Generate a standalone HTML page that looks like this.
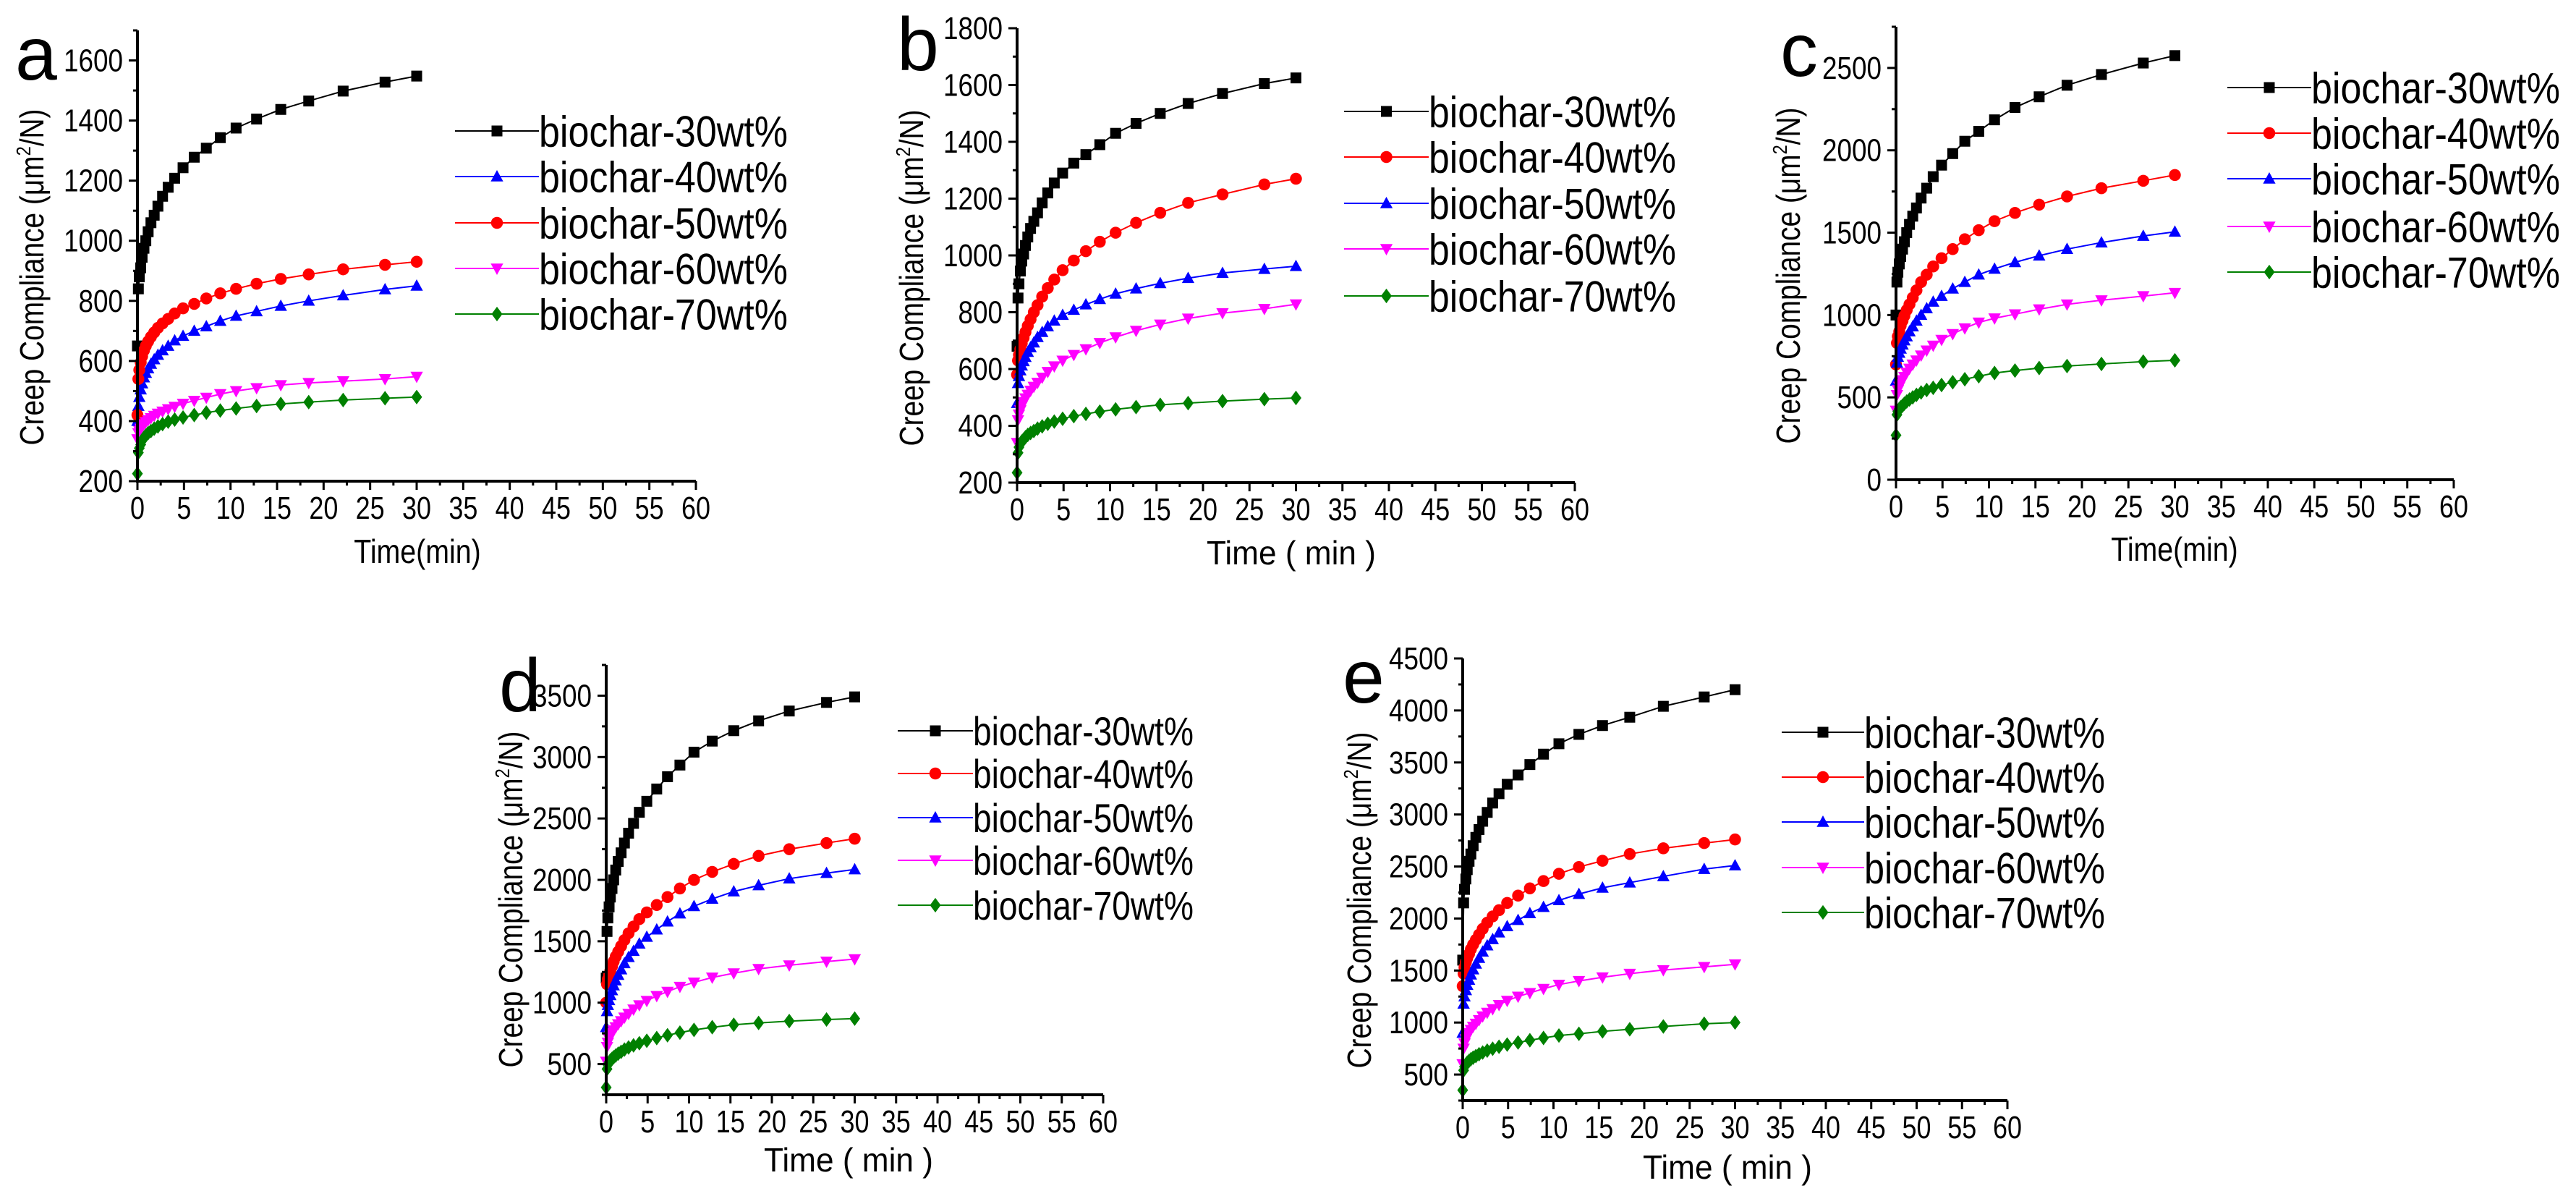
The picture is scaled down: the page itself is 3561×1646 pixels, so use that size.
<!DOCTYPE html>
<html><head><meta charset="utf-8"><style>
html,body{margin:0;padding:0;background:#fff;}
svg{display:block;font-family:"Liberation Sans",Arial,sans-serif;}
</style></head><body>
<svg id="fig" xmlns="http://www.w3.org/2000/svg" width="3561" height="1646" viewBox="0 0 3561 1646"></svg>
<script>
// ---- data ----
const times = [30,26.6,22.1,18.4,15.4,12.8,10.6,8.9,7.4,6.1,4.9,4.0,3.3,2.7,2.2,1.8,1.45,1.15,0.9,0.7,0.5,0.35,0.2,0.1,0];
const seriesNames = ['biochar-30wt%','biochar-40wt%','biochar-50wt%','biochar-60wt%','biochar-70wt%'];
const xTickLabels = [0,5,10,15,20,25,30,35,40,45,50,55,60];

const a30 = [1548,1528,1498,1465,1437,1405,1375,1343,1308,1278,1243,1208,1178,1148,1115,1085,1060,1030,1000,975,945,910,880,840,650];
const a40 = [850,838,818,800,783,765,750,733,715,700,683,668,650,635,620,605,590,575,560,545,525,505,480,450,400];
const a50 = [930,920,905,888,873,857,840,825,808,790,775,758,740,725,710,695,680,665,650,635,615,595,570,540,420];
const a60 = [548,540,533,527,520,510,500,490,478,468,458,448,440,432,425,418,410,403,397,390,382,375,368,360,340];
const a70 = [480,476,470,463,457,450,442,435,428,420,412,405,398,390,382,375,367,360,352,345,335,322,310,295,225];

const b30 = [1625,1605,1570,1535,1500,1465,1430,1390,1355,1325,1290,1255,1220,1185,1150,1120,1095,1065,1035,1005,980,945,900,850,680];
const b40 = [1270,1250,1215,1185,1150,1115,1080,1048,1015,982,948,915,885,855,825,800,775,752,730,710,690,670,650,630,580];
const b50 = [962,952,938,920,902,883,865,846,827,808,790,770,750,730,712,693,676,660,642,627,612,595,575,550,480];
const b60 = [828,812,797,778,757,735,712,692,670,650,630,610,590,570,552,538,524,510,497,484,470,455,440,420,340];
const b70 = [498,494,487,480,474,466,458,450,442,434,425,415,407,398,390,382,375,368,360,352,345,337,325,305,235];

const c30 = [2575,2530,2460,2395,2325,2260,2185,2115,2055,1980,1910,1840,1770,1710,1650,1600,1550,1500,1445,1400,1355,1310,1260,1200,1000];
const c40 = [1850,1815,1770,1720,1670,1620,1570,1515,1460,1400,1345,1295,1245,1200,1150,1105,1065,1030,995,965,935,900,870,830,700];
const c50 = [1505,1480,1440,1400,1360,1320,1280,1245,1200,1160,1115,1080,1040,1000,965,930,900,870,845,820,795,770,745,710,600];
const c60 = [1135,1115,1090,1065,1035,1005,980,955,920,885,850,815,785,755,725,700,675,650,625,605,585,565,545,515,420];
const c70 = [725,717,703,690,678,663,648,628,610,592,575,558,545,530,515,500,487,475,462,450,440,430,415,395,270];

const d30 = [3490,3445,3375,3295,3215,3130,3040,2935,2840,2740,2640,2550,2460,2380,2300,2220,2150,2080,2000,1930,1860,1780,1690,1580,1200];
const d40 = [2335,2300,2250,2195,2130,2065,2000,1930,1860,1795,1735,1680,1620,1565,1510,1460,1415,1375,1335,1295,1260,1225,1190,1150,1000];
const d50 = [2085,2055,2010,1955,1905,1845,1785,1725,1660,1595,1535,1480,1420,1370,1320,1270,1225,1180,1140,1100,1060,1020,980,930,800];
const d60 = [1355,1335,1305,1275,1240,1205,1165,1130,1090,1055,1015,980,945,910,880,850,825,800,775,755,730,705,675,640,520];
const d70 = [870,863,850,835,820,800,778,756,735,712,690,670,652,635,618,600,585,570,556,543,530,515,495,460,310];

const e30 = [4200,4130,4040,3935,3855,3770,3680,3580,3480,3380,3290,3200,3110,3020,2935,2855,2780,2700,2620,2550,2470,2380,2280,2150,1600];
const e40 = [2760,2725,2675,2620,2555,2495,2430,2360,2290,2220,2150,2080,2020,1960,1900,1845,1795,1750,1705,1660,1620,1580,1530,1470,1350];
const e50 = [2510,2475,2405,2345,2295,2235,2175,2110,2050,1985,1925,1865,1800,1740,1680,1620,1565,1510,1460,1410,1360,1310,1250,1180,900];
const e60 = [1560,1535,1505,1470,1435,1400,1365,1325,1285,1250,1210,1170,1130,1095,1060,1025,990,960,930,900,870,840,800,750,600];
const e70 = [1000,988,962,935,915,892,875,852,830,808,788,767,748,730,712,695,678,662,647,632,615,598,575,540,350];

// ---- styles / layout ----
const NS = 'http://www.w3.org/2000/svg';
const svg = document.getElementById('fig');
const STY = {
  s30:{color:'#000000',marker:'square'},
  s40r:{color:'#ff0000',marker:'circle'},
  s40b:{color:'#0000ff',marker:'up'},
  s50r:{color:'#ff0000',marker:'circle'},
  s50b:{color:'#0000ff',marker:'up'},
  s60:{color:'#ff00ff',marker:'down'},
  s70:{color:'#008000',marker:'diamond'}
};
const panels = [
  {letter:'a',lx:21,ly:110,x0:190,x1:962,yb:665,yt:42,ymin:200,ymax:1700,lab0:200,lab1:1600,step:200,
   yTitle:[60,383],xTitle:[577,778,'Time(min)'],leg:[629,745,[181,244,308,371,434],60,344],
   series:[[a30,STY.s30],[a40,STY.s40b],[a50,STY.s50r],[a60,STY.s60],[a70,STY.s70]]},
  {letter:'b',lx:1240,ly:97,x0:1406,x1:2177,yb:667,yt:39,ymin:200,ymax:1800,lab0:200,lab1:1800,step:200,
   yTitle:[1276,384],xTitle:[1785,780,'Time ( min )'],leg:[1858,1975,[154,217,281,344,409],60,342],
   series:[[b30,STY.s30],[b40,STY.s40r],[b50,STY.s50b],[b60,STY.s60],[b70,STY.s70]]},
  {letter:'c',lx:2461,ly:105,x0:2621,x1:3392,yb:663,yt:37,ymin:0,ymax:2750,lab0:0,lab1:2500,step:500,
   yTitle:[2488,381],xTitle:[3006,775,'Time(min)'],leg:[3079,3195,[121,184,247,313,376],60,344],
   series:[[c30,STY.s30],[c40,STY.s40r],[c50,STY.s50b],[c60,STY.s60],[c70,STY.s70]]},
  {letter:'d',lx:690,ly:983,x0:838,x1:1525,yb:1513,yt:919,ymin:250,ymax:3750,lab0:500,lab1:3500,step:500,
   yTitle:[722,1243],xTitle:[1173,1619,'Time ( min )'],leg:[1241,1345,[1010,1069,1130,1189,1251],56,305],
   series:[[d30,STY.s30],[d40,STY.s40r],[d50,STY.s50b],[d60,STY.s60],[d70,STY.s70]]},
  {letter:'e',lx:1856,ly:971,x0:2022,x1:2775,yb:1521,yt:910,ymin:250,ymax:4500,lab0:500,lab1:4500,step:500,
   yTitle:[1895,1244],xTitle:[2388,1629,'Time ( min )'],leg:[2463,2577,[1012,1074,1136,1199,1261],60,333],
   series:[[e30,STY.s30],[e40,STY.s40r],[e50,STY.s50b],[e60,STY.s60],[e70,STY.s70]]}
];

function mk(tag, attrs, parent){
  const el = document.createElementNS(NS, tag);
  for (const k in attrs) el.setAttribute(k, attrs[k]);
  (parent||svg).appendChild(el);
  return el;
}
function marker(g, type, cx, cy, color, s){
  let el;
  if (type==='square') el = mk('rect',{x:cx-s,y:cy-s,width:2*s,height:2*s,fill:color},g);
  else if (type==='circle') el = mk('circle',{cx:cx,cy:cy,r:s*1.1,fill:color},g);
  else if (type==='up') el = mk('polygon',{points:`${cx},${cy-s*1.2} ${cx-s*1.15},${cy+s*0.9} ${cx+s*1.15},${cy+s*0.9}`,fill:color},g);
  else if (type==='down') el = mk('polygon',{points:`${cx},${cy+s*1.2} ${cx-s*1.15},${cy-s*0.9} ${cx+s*1.15},${cy-s*0.9}`,fill:color},g);
  else el = mk('polygon',{points:`${cx},${cy-s*1.35} ${cx+s*1.0},${cy} ${cx},${cy+s*1.35} ${cx-s*1.0},${cy}`,fill:color},g);
  
  
  return el;
}

panels.forEach(p => {
  const g = mk('g',{});
  
  
  const xs = t => p.x0 + (t/60)*(p.x1-p.x0);
  const ys = v => p.yb - (v-p.ymin)/(p.ymax-p.ymin)*(p.yb-p.yt);

  const L = mk('text',{x:p.lx,y:p.ly,'font-size':104,fill:'#000'},g);
  L.textContent = p.letter;
  
  

  p.series.forEach((s, si) => {
    const vals = s[0], st = s[1];
    const sg = mk('g',{},g);
    
    
    const pts = times.map((t,i) => xs(t).toFixed(1)+','+ys(vals[i]).toFixed(1)).join(' ');
    const pl = mk('polyline',{points:pts,fill:'none',stroke:st.color,'stroke-width':2},sg);
    
    
    times.forEach((t,i) => marker(sg, st.marker, xs(t), ys(vals[i]), st.color, 7.5));
  });

  const ax = mk('g',{stroke:'#000','stroke-width':4,fill:'none'},g);
  
  
  mk('line',{x1:p.x0,y1:p.yt,x2:p.x0,y2:p.yb+2},ax);
  mk('line',{x1:p.x0-2,y1:p.yb,x2:p.x1,y2:p.yb},ax);
  for (let t=0; t<=60; t+=2.5){
    const major = (t%5===0);
    mk('line',{x1:xs(t),y1:p.yb,x2:xs(t),y2:p.yb+(major?12:6),'stroke-width':3},ax);
  }
  xTickLabels.forEach(v => {
    const s = String(v);
    const tx = mk('text',{x:xs(v),y:p.yb+52,'font-size':44,'text-anchor':'middle',fill:'#000',stroke:'none',
      textLength:s.length*20,lengthAdjust:'spacingAndGlyphs'},g);
    tx.textContent = s;
    
    
  });
  const half = p.step/2;
  for (let v=Math.ceil(p.ymin/half)*half; v<=p.ymax+0.01; v+=half){
    const major = Math.abs(v % p.step) < 0.01;
    mk('line',{x1:p.x0,y1:ys(v),x2:p.x0-(major?12:6),y2:ys(v),'stroke-width':3},ax);
  }
  for (let v=p.lab0; v<=p.lab1; v+=p.step){
    const s = String(v);
    const ty = mk('text',{x:p.x0-20,y:ys(v)+15,'font-size':44,'text-anchor':'end',fill:'#000',
      textLength:s.length*20.5,lengthAdjust:'spacingAndGlyphs'},g);
    ty.textContent = s;
    
    
  }
  const yt = mk('text',{x:0,y:0,'font-size':46,'text-anchor':'middle',fill:'#000',
    textLength:465,lengthAdjust:'spacingAndGlyphs'},g);
  
  
  yt.setAttribute('transform', `translate(${p.yTitle[0]},${p.yTitle[1]}) rotate(-90)`);
  yt.innerHTML = 'Creep Compliance (μm<tspan dy="-18" font-size="28">2</tspan><tspan dy="18">/N)</tspan>';
  const xt = mk('text',{x:p.xTitle[0],y:p.xTitle[1],'font-size':46,'text-anchor':'middle',fill:'#000',
    textLength:p.xTitle[2].length*19.5,lengthAdjust:'spacingAndGlyphs'},g);
  xt.textContent = p.xTitle[2];
  
  

  const lg = mk('g',{},g);
  
  
  p.series.forEach((s, si) => {
    const st = s[1], y = p.leg[2][si];
    const e = mk('g',{},lg);
    
    
    mk('line',{x1:p.leg[0],y1:y,x2:p.leg[1],y2:y,stroke:st.color,'stroke-width':2},e);
    marker(e, st.marker, (p.leg[0]+p.leg[1])/2, y, st.color, 7.5);
    const tx = mk('text',{x:p.leg[1],y:y+p.leg[3]*0.36,'font-size':p.leg[3],fill:'#000',
      textLength:p.leg[4],lengthAdjust:'spacingAndGlyphs'},e);
    tx.textContent = seriesNames[si];
  });
});
</script>
</body></html>
